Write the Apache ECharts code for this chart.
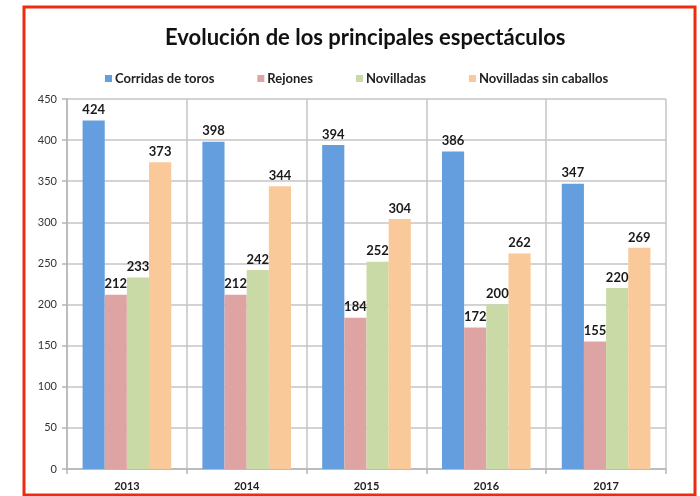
<!DOCTYPE html>
<html>
<head>
<meta charset="utf-8">
<script src="https://cdn.jsdelivr.net/npm/echarts@6/dist/echarts.min.js"></script>
<style>
html, body { margin: 0; padding: 0; background: #fff; }
#main { width: 700px; height: 496px; }
</style>
</head>
<body>
<div id="main"></div>
<script>
// datos del gráfico
var anios = ['2013', '2014', '2015', '2016', '2017'];
var corridas = [424, 398, 394, 386, 347];
var rejones = [212, 212, 184, 172, 155];
var novilladas = [233, 242, 252, 200, 220];
var sinCaballos = [373, 344, 304, 262, 269];
var nombres = ['Corridas de toros', 'Rejones', 'Novilladas', 'Novilladas sin caballos'];
var colores = ['#659ede', '#dea4a3', '#c9daa6', '#f9c99a'];

var myChart = echarts.init(document.getElementById('main'));
var fuente = 'Lato, "Open Sans", sans-serif';

function serie(nombre, datos, color) {
    return {
        name: nombre,
        type: 'bar',
        data: datos,
        barGap: 0,
        barCategoryGap: '26%',
        itemStyle: { color: color },
        label: {
            show: true,
            position: 'top',
            distance: 4,
            fontFamily: fuente,
            fontSize: 13,
            fontWeight: 'bold',
            color: '#1a1a1a'
        }
    };
}

var option = {
    animation: false,
    textStyle: { fontFamily: fuente },
    graphic: [{
        type: 'rect',
        shape: { x: 24, y: 7, width: 671, height: 488 },
        style: { fill: 'none', stroke: '#ee2a12', lineWidth: 3 },
        silent: true
    }],
    title: {
        text: 'Evolución de los principales espectáculos',
        left: 160,
        top: 22,
        textStyle: { fontFamily: fuente, fontSize: 22, fontWeight: 'bold', color: '#111' }
    },
    legend: {
        data: nombres,
        top: 67,
        left: 100,
        itemWidth: 7,
        itemHeight: 7,
        itemGap: 43,
        icon: 'rect',
        textStyle: { fontFamily: fuente, fontSize: 13, fontWeight: 'bold', color: '#222', padding: [0, 0, 0, -2] }
    },
    grid: { left: 67, right: 34, top: 99, bottom: 27, containLabel: false },
    xAxis: {
        type: 'category',
        data: anios,
        axisLine: { lineStyle: { color: '#b5b5b5', width: 1.5 } },
        axisTick: { show: true, length: 5, lineStyle: { color: '#b5b5b5', width: 1.5 } },
        splitLine: { show: true, lineStyle: { color: '#c4c4c4', width: 1.5 } },
        axisLabel: { fontFamily: fuente, fontSize: 11, fontWeight: 'bold', color: '#222', margin: 12 }
    },
    yAxis: {
        type: 'value',
        min: 0,
        max: 450,
        interval: 50,
        axisLine: { show: true, lineStyle: { color: '#b5b5b5', width: 1.5 } },
        axisTick: { show: true, length: 5, lineStyle: { color: '#b5b5b5', width: 1.5 } },
        splitLine: { lineStyle: { color: '#c4c4c4', width: 1.5 } },
        axisLabel: { fontFamily: fuente, fontSize: 11, color: '#333', margin: 10 }
    },
    series: [
        serie(nombres[0], corridas, colores[0]),
        serie(nombres[1], rejones, colores[1]),
        serie(nombres[2], novilladas, colores[2]),
        serie(nombres[3], sinCaballos, colores[3])
    ]
};
myChart.setOption(option);
</script>
</body>
</html>
